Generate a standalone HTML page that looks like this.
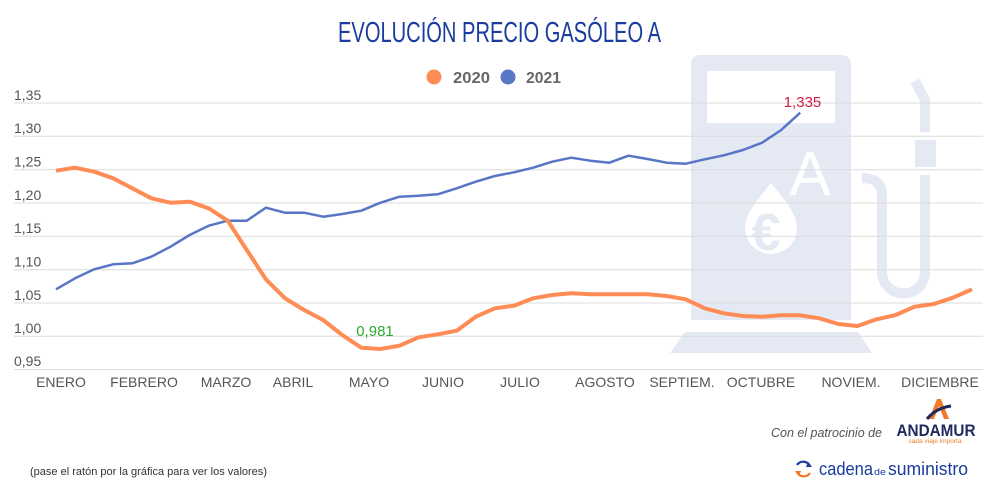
<!DOCTYPE html>
<html><head><meta charset="utf-8"><style>
html,body{margin:0;padding:0;background:#fff;width:1000px;height:500px;overflow:hidden}
svg{display:block}
text{font-family:"Liberation Sans",sans-serif}
</style></head><body>
<svg width="1000" height="500" viewBox="0 0 1000 500" xmlns="http://www.w3.org/2000/svg">
<rect width="1000" height="500" fill="#fff"/>
<!-- pump watermark -->
<g fill="#e5e9f4">
<path d="M691 320 L691 65 Q691 55 701 55 L841 55 Q851 55 851 65 L851 320 Z"/>
<polygon points="685,332 858,332 872,353 670,353"/>
<rect x="915" y="140" width="21" height="27"/>
</g>
<rect x="707" y="71" width="128" height="52" fill="#fff"/>
<text x="810" y="195" font-size="62" fill="#fff" text-anchor="middle">A</text>
<path d="M771 183 C 760 197 745 213 745 228 A 26 26 0 0 0 797 228 C 797 213 782 197 771 183 Z" fill="#fff"/>
<text x="766" y="250" font-size="52" font-weight="bold" fill="#e5e9f4" text-anchor="middle">€</text>
<g fill="none" stroke="#e5e9f4" stroke-width="10">
<path d="M862 178 Q882 178 882 196 L882 272 A 21.5 21.5 0 0 0 925 272 L925 175"/>
<path d="M925 132 L925 100 L915 81"/>
</g>
<!-- gridlines -->
<g stroke="#dcdcdc" stroke-width="1">
<line x1="14" y1="103" x2="983" y2="103"/>
<line x1="14" y1="136.3" x2="983" y2="136.3"/>
<line x1="14" y1="169.7" x2="983" y2="169.7"/>
<line x1="14" y1="203" x2="983" y2="203"/>
<line x1="14" y1="236.3" x2="983" y2="236.3"/>
<line x1="14" y1="269.7" x2="983" y2="269.7"/>
<line x1="14" y1="303" x2="983" y2="303"/>
<line x1="14" y1="336.3" x2="983" y2="336.3"/>
<line x1="14" y1="369.5" x2="983" y2="369.5"/>
</g>
<!-- y labels -->
<g font-size="14" fill="#555">
<text x="14" y="100">1,35</text>
<text x="14" y="133">1,30</text>
<text x="14" y="166.5">1,25</text>
<text x="14" y="200">1,20</text>
<text x="14" y="233">1,15</text>
<text x="14" y="266.5">1,10</text>
<text x="14" y="300">1,05</text>
<text x="14" y="333">1,00</text>
<text x="14" y="366">0,95</text>
</g>
<!-- x labels -->
<g font-size="14" fill="#555" text-anchor="middle">
<text x="61" y="387">ENERO</text>
<text x="144" y="387">FEBRERO</text>
<text x="226" y="387">MARZO</text>
<text x="293" y="387">ABRIL</text>
<text x="369" y="387">MAYO</text>
<text x="443" y="387">JUNIO</text>
<text x="520" y="387">JULIO</text>
<text x="605" y="387">AGOSTO</text>
<text x="682" y="387">SEPTIEM.</text>
<text x="761" y="387">OCTUBRE</text>
<text x="851" y="387">NOVIEM.</text>
<text x="940" y="387">DICIEMBRE</text>
</g>
<!-- 2021 -->
<polyline fill="none" stroke="#5876c6" stroke-width="2.5" stroke-linejoin="round" points="56,289.3 75.1,278.3 94.2,269.3 113.2,264.3 132.3,263.3 151.4,256.7 170.5,246.7 189.6,235 208.7,225.7 227.7,220.7 246.8,220.7 265.9,207.7 285,212.7 304.1,212.7 323.2,216.7 342.2,214 361.3,210.7 380.4,202.7 399.5,196.7 418.6,195.7 437.7,194.3 456.7,188.3 475.8,181.7 494.9,176 514,172.3 533.1,167.7 552.2,161.7 571.2,157.7 590.3,160.7 609.4,162.7 628.5,155.7 647.6,159 666.7,162.7 685.7,163.7 704.8,159.3 723.9,155.3 743,150 762.1,142.7 781.2,130 800.2,112.7"/>
<!-- 2020 -->
<polyline fill="none" stroke="#ff8b55" stroke-width="4" stroke-linejoin="round" points="56,170.7 75.1,167.7 94.2,171.7 113.2,178.3 132.3,188.3 151.4,198.3 170.5,202.7 189.6,201.7 208.7,208.3 227.7,220.7 246.8,250 265.9,279.3 285,298.3 304.1,310 323.2,320 342.2,335 361.3,347.7 380.4,349 399.5,345.7 418.6,337.3 437.7,334.3 456.7,330.7 475.8,316.7 494.9,308.3 514,305.7 533.1,298.3 552.2,295 571.2,293.3 590.3,294.3 609.4,294.3 628.5,294.3 647.6,294.3 666.7,296 685.7,299.3 704.8,308.3 723.9,313.3 743,316 762.1,316.7 781.2,315.3 800.2,315.3 819.3,318.3 838.4,324 857.5,326 876.6,319.3 895.7,315 914.7,306.7 933.8,304 952.9,297.7 972,289.3"/>
<!-- value labels -->
<text x="802.5" y="107" font-size="15" fill="#d21a44" text-anchor="middle">1,335</text>
<text x="375" y="336" font-size="15" fill="#2fa82f" text-anchor="middle">0,981</text>
<!-- title -->
<text x="499.5" y="42" font-size="29" fill="#1a3d9e" text-anchor="middle" textLength="323" lengthAdjust="spacingAndGlyphs">EVOLUCIÓN PRECIO GASÓLEO A</text>
<!-- legend -->
<circle cx="434" cy="77" r="7.5" fill="#ff8b55"/>
<text x="453" y="83" font-size="16" font-weight="bold" fill="#666" textLength="37" lengthAdjust="spacingAndGlyphs">2020</text>
<circle cx="508" cy="77" r="7.5" fill="#5876c6"/>
<text x="526" y="83" font-size="16" font-weight="bold" fill="#666" textLength="35" lengthAdjust="spacingAndGlyphs">2021</text>
<!-- footer -->
<text x="771" y="437" font-size="13" font-style="italic" fill="#555" textLength="111" lengthAdjust="spacingAndGlyphs">Con el patrocinio de</text>
<text x="30" y="475" font-size="11" fill="#333" textLength="237" lengthAdjust="spacingAndGlyphs">(pase el ratón por la gráfica para ver los valores)</text>
<!-- ANDAMUR logo -->
<polygon points="929,419 937,399 941,399 949,419 944,419 939,406 934,419" fill="#f07a2a"/>
<path d="M927 419 Q936 408 951 406" fill="none" stroke="#1e2a5e" stroke-width="3"/>
<text x="936" y="436" font-size="16.5" font-weight="bold" fill="#1e2a5e" text-anchor="middle" textLength="79" lengthAdjust="spacingAndGlyphs">ANDAMUR</text>
<text x="935" y="443" font-size="6" fill="#f07a2a" text-anchor="middle" textLength="53" lengthAdjust="spacingAndGlyphs">cada viaje importa</text>
<!-- cadena de suministro -->
<path d="M797 465 A 7.5 7.5 0 0 1 810 466" fill="none" stroke="#1a3d9e" stroke-width="2.2"/>
<path d="M810 473 A 7.5 7.5 0 0 1 797 472" fill="none" stroke="#f07a2a" stroke-width="2.2"/>
<polygon points="808,462 812,467 806,467" fill="#1a3d9e"/>
<polygon points="799,476 795,471 801,471" fill="#f07a2a"/>
<text x="819" y="475" font-size="18" fill="#1a3d9e" textLength="54" lengthAdjust="spacingAndGlyphs">cadena</text>
<text x="874" y="475" font-size="9" fill="#1a3d9e" textLength="12" lengthAdjust="spacingAndGlyphs">de</text>
<text x="888" y="475" font-size="18" fill="#1a3d9e" textLength="80" lengthAdjust="spacingAndGlyphs">suministro</text>
</svg>
</body></html>
